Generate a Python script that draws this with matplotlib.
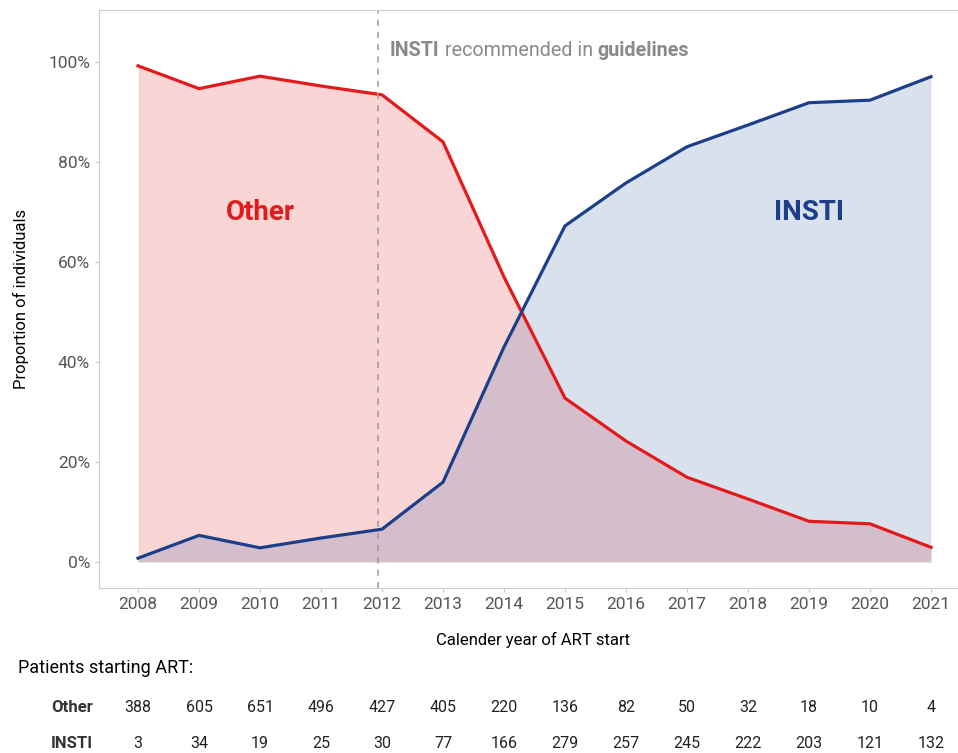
#!/usr/bin/env python3
import numpy as np
import matplotlib
matplotlib.use('Agg')
import matplotlib.pyplot as plt

plt.rcParams['font.family'] = ['Roboto', 'DejaVu Sans']

years = [2008, 2009, 2010, 2011, 2012, 2013, 2014, 2015, 2016, 2017, 2018, 2019, 2020, 2021]
other_n = [388, 605, 651, 496, 427, 405, 220, 136, 82, 50, 32, 18, 10, 4]
insti_n = [3, 34, 19, 25, 30, 77, 166, 279, 257, 245, 222, 203, 121, 132]

red = '#e31a1c'
blue = '#1d3f8a'
grey = '#8a8a8a'

x = np.array(years)
tot = np.array(other_n) + np.array(insti_n)
other = np.array(other_n) / tot
insti = np.array(insti_n) / tot

fig = plt.figure(figsize=(9.58, 7.53), dpi=100)
ax = fig.add_axes([99/958, 1 - 588/753, 1 - 99/958 + 0.01, (588 - 10)/753])

ax.fill_between(x, 0, other, color=red, alpha=0.18, lw=0)
ax.fill_between(x, 0, insti, color='#2d5a9c', alpha=0.18, lw=0)
ax.plot(x, other, color=red, lw=2.3)
ax.plot(x, insti, color=blue, lw=2.3)

# guideline marker with mixed bold / regular text
ax.axvline(2011.93, color='#999999', ls=(0, (4, 4)), lw=1.1)
t1 = ax.text(2012.13, 1.023, 'INSTI', color=grey, fontsize=14.2, fontweight='bold', va='center')
t2 = ax.annotate(' recommended in ', xy=(1, 0.5), xycoords=t1, color=grey, fontsize=14.2,
                 va='center', ha='left')
ax.annotate('guidelines', xy=(1, 0.5), xycoords=t2, color=grey, fontsize=14.2,
            fontweight='bold', va='center', ha='left')

ax.text(2010.0, 0.70, 'Other', color=red, fontsize=20, fontweight='bold', ha='center', va='center')
ax.text(2019.0, 0.70, 'INSTI', color=blue, fontsize=20, fontweight='bold', ha='center', va='center')

ax.set_xlim(2007.36, 2021.6)
ax.set_ylim(-0.052, 1.104)
ax.set_xticks(years)
ax.set_yticks([0, 0.2, 0.4, 0.6, 0.8, 1.0])
ax.set_yticklabels(['0%', '20%', '40%', '60%', '80%', '100%'])
ax.tick_params(colors='#cccccc', labelcolor='#555555', labelsize=12.5, length=3)
for s in ax.spines.values():
    s.set_color('#cccccc')
ax.set_ylabel('Proportion of individuals', fontsize=12, labelpad=14)
ax.set_xlabel('Calender year of ART start', fontsize=12, labelpad=14)

fig.text(18/958, 1 - 668/753, 'Patients starting ART:', fontsize=13, va='center')
for name, row, yy in [('Other', other_n, 708), ('INSTI', insti_n, 744)]:
    fy = 1 - yy/753
    fig.text(51/958, fy, name, fontsize=12, fontweight='bold', color='#333333', va='center')
    for yr, v in zip(years, row):
        fx = ax.transData.transform((yr, 0))[0] / fig.bbox.width
        fig.text(fx, fy, str(v), fontsize=11.5, color='#222222', ha='center', va='center')

fig.savefig('out.png', dpi=100)
